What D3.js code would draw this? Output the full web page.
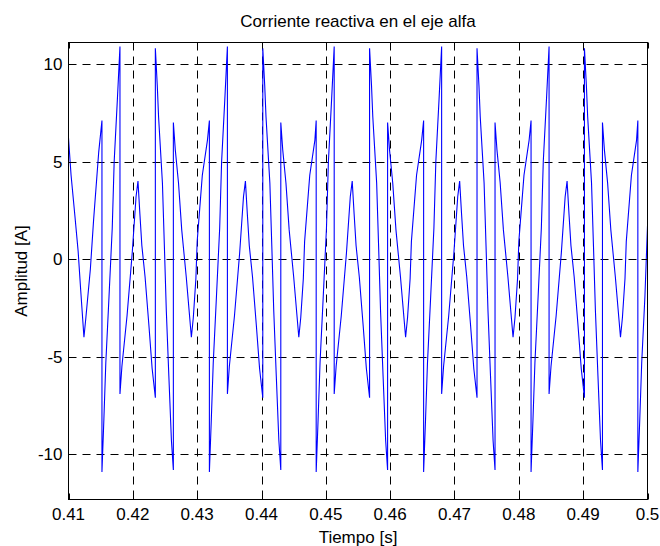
<!DOCTYPE html>
<html lang="es">
<head>
    <meta charset="UTF-8">
    <title>Corriente reactiva</title>
    <script src="https://d3js.org/d3.v7.min.js"></script>
    <style>
        body { margin: 0; background: #fff; }
        text { font-family: "Liberation Sans", Arial, Helvetica, sans-serif; fill: #000; }
    </style>
</head>
<body>
    <svg class="grafico" width="660" height="546"></svg>
    <script>
    // textos
    const titulo = "Corriente reactiva en el eje alfa"
    const etiquetaX = "Tiempo [s]"
    const etiquetaY = "Amplitud [A]"

    // ticks
    const xTicks = [0.41, 0.42, 0.43, 0.44, 0.45, 0.46, 0.47, 0.48, 0.49, 0.5]
    const xTickLabels = ["0.41", "0.42", "0.43", "0.44", "0.45", "0.46", "0.47", "0.48", "0.49", "0.5"]
    const yTicks = [-10, -5, 0, 5, 10]
    const yTickLabels = ["-10", "-5", "0", "5", "10"]
    const xLim = [0.41, 0.5]
    const yLim = [-12.31, 11.10]

    // muestras: [tiempo (s), corriente (A)]
    const senal = [
        [0.4100, 6.2], [0.4104, 4.3], [0.4110, 2.2], [0.4115, 0.4], [0.4119, -1.6], [0.4124, -4.0],
        [0.4127, -3.0], [0.4134, -0.5], [0.4139, 2.0], [0.4147, 5.5], [0.4152, 7.1],
        // periodo 1
        [0.4152, -10.9], [0.4155, -8.2], [0.4158, -5.3], [0.4163, -1.9], [0.4168, 1.6], [0.4171, 5.0], [0.4176, 8.2], [0.4180, 10.9],
        [0.4180, -6.9], [0.4183, -5.5], [0.4191, -2.9], [0.4199, 0.3], [0.4205, 3.2], [0.4208, 4.0],
        [0.4211, 2.3], [0.4214, 0.7], [0.4219, -0.9], [0.4225, -3.4], [0.4230, -5.6], [0.4235, -7.1],
        [0.4235, 10.8], [0.4238, 8.9], [0.4240, 7.3], [0.4243, 5.6], [0.4246, 3.9], [0.4249, 0.7], [0.4252, -2.6], [0.4256, -6.0], [0.4260, -9.3], [0.4263, -10.8],
        [0.4263, 7.0], [0.4266, 5.6], [0.4271, 3.9], [0.4276, 1.5], [0.4283, -0.9], [0.4291, -4.0],
        [0.4294, -3.0], [0.4298, -1.0], [0.4300, 0.9], [0.4308, 4.3], [0.4316, 6.1], [0.4319, 7.1],
        // periodo 2
        [0.4319, -10.9], [0.4322, -8.2], [0.4325, -5.3], [0.4330, -1.9], [0.4335, 1.6], [0.4338, 5.0], [0.4343, 8.2], [0.4347, 10.9],
        [0.4347, -6.9], [0.4350, -5.5], [0.4358, -2.9], [0.4366, 0.3], [0.4372, 3.2], [0.4375, 4.0],
        [0.4378, 2.3], [0.4381, 0.7], [0.4386, -0.9], [0.4392, -3.4], [0.4397, -5.6], [0.4402, -7.1],
        [0.4402, 10.8], [0.4405, 8.9], [0.4407, 7.3], [0.4410, 5.6], [0.4413, 3.9], [0.4416, 0.7], [0.4419, -2.6], [0.4423, -6.0], [0.4427, -9.3], [0.4430, -10.8],
        [0.4430, 7.0], [0.4433, 5.6], [0.4438, 3.9], [0.4443, 1.5], [0.4450, -0.9], [0.4458, -4.0],
        [0.4461, -3.0], [0.4465, -1.0], [0.4467, 0.9], [0.4475, 4.3], [0.4483, 6.1], [0.4485, 7.1],
        // periodo 3
        [0.4485, -10.9], [0.4488, -8.2], [0.4491, -5.3], [0.4496, -1.9], [0.4501, 1.6], [0.4504, 5.0], [0.4509, 8.2], [0.4513, 10.9],
        [0.4513, -6.9], [0.4516, -5.5], [0.4524, -2.9], [0.4532, 0.3], [0.4538, 3.2], [0.4541, 4.0],
        [0.4544, 2.3], [0.4547, 0.7], [0.4552, -0.9], [0.4558, -3.4], [0.4563, -5.6], [0.4568, -7.1],
        [0.4568, 10.8], [0.4571, 8.9], [0.4573, 7.3], [0.4576, 5.6], [0.4579, 3.9], [0.4582, 0.7], [0.4585, -2.6], [0.4589, -6.0], [0.4593, -9.3], [0.4596, -10.8],
        [0.4596, 7.0], [0.4599, 5.6], [0.4604, 3.9], [0.4609, 1.5], [0.4616, -0.9], [0.4624, -4.0],
        [0.4627, -3.0], [0.4631, -1.0], [0.4633, 0.9], [0.4641, 4.3], [0.4649, 6.1], [0.4652, 7.1],
        // periodo 4
        [0.4652, -10.9], [0.4655, -8.2], [0.4658, -5.3], [0.4663, -1.9], [0.4668, 1.6], [0.4671, 5.0], [0.4676, 8.2], [0.4680, 10.9],
        [0.4680, -6.9], [0.4683, -5.5], [0.4691, -2.9], [0.4699, 0.3], [0.4705, 3.2], [0.4708, 4.0],
        [0.4711, 2.3], [0.4714, 0.7], [0.4719, -0.9], [0.4725, -3.4], [0.4730, -5.6], [0.4735, -7.1],
        [0.4735, 10.8], [0.4738, 8.9], [0.4740, 7.3], [0.4743, 5.6], [0.4746, 3.9], [0.4749, 0.7], [0.4752, -2.6], [0.4756, -6.0], [0.4760, -9.3], [0.4763, -10.8],
        [0.4763, 7.0], [0.4766, 5.6], [0.4771, 3.9], [0.4776, 1.5], [0.4783, -0.9], [0.4791, -4.0],
        [0.4794, -3.0], [0.4798, -1.0], [0.4800, 0.9], [0.4808, 4.3], [0.4816, 6.1], [0.4819, 7.1],
        // periodo 5
        [0.4819, -10.9], [0.4822, -8.2], [0.4825, -5.3], [0.4830, -1.9], [0.4835, 1.6], [0.4838, 5.0], [0.4843, 8.2], [0.4847, 10.9],
        [0.4847, -6.9], [0.4850, -5.5], [0.4858, -2.9], [0.4866, 0.3], [0.4872, 3.2], [0.4875, 4.0],
        [0.4878, 2.3], [0.4881, 0.7], [0.4886, -0.9], [0.4892, -3.4], [0.4897, -5.6], [0.4902, -7.1],
        [0.4902, 10.8], [0.4905, 8.9], [0.4907, 7.3], [0.4910, 5.6], [0.4913, 3.9], [0.4916, 0.7], [0.4919, -2.6], [0.4923, -6.0], [0.4927, -9.3], [0.4930, -10.8],
        [0.4930, 7.0], [0.4933, 5.6], [0.4938, 3.9], [0.4943, 1.5], [0.4950, -0.9], [0.4958, -4.0],
        [0.4961, -3.0], [0.4965, -1.0], [0.4967, 0.9], [0.4975, 4.3], [0.4983, 6.1], [0.4985, 7.1],
        // final
        [0.4985, -10.9], [0.4988, -8.2], [0.4991, -5.3], [0.4996, -1.9], [0.5000, 1.7]
    ]

    const margen = { left: 68.5, right: 647.5, top: 42.5, bottom: 499.5 }

    const svg = d3.select('.grafico')

    // escalas
    const x = d3.scaleLinear().domain(xLim).range([margen.left, margen.right])
    const y = d3.scaleLinear().domain(yLim).range([margen.bottom, margen.top])

    svg.append('rect')
        .attr('width', 660).attr('height', 546)
        .attr('fill', '#fff')

    // grilla punteada
    const grilla = svg.append('g')
        .attr('stroke', '#000')
        .attr('stroke-width', 1)
        .attr('stroke-dasharray', '8,6')
    grilla.selectAll('.gx')
        .data(xTicks.filter(d => d > xLim[0] && d < xLim[1]))
        .enter()
        .append('line')
        .attr('x1', d => Math.round(x(d)) + 0.5).attr('x2', d => Math.round(x(d)) + 0.5)
        .attr('y1', margen.top).attr('y2', margen.bottom)
    grilla.selectAll('.gy')
        .data(yTicks)
        .enter()
        .append('line')
        .attr('y1', d => Math.round(y(d)) + 0.5).attr('y2', d => Math.round(y(d)) + 0.5)
        .attr('x1', margen.left).attr('x2', margen.right)

    // senal
    svg.append('clipPath').attr('id', 'recorte')
        .append('rect')
        .attr('x', margen.left).attr('y', margen.top)
        .attr('width', margen.right - margen.left)
        .attr('height', margen.bottom - margen.top)

    const linea = d3.line()
        .x(d => x(d[0]))
        .y(d => y(d[1]))

    svg.append('path')
        .datum(senal)
        .attr('clip-path', 'url(#recorte)')
        .attr('d', linea)
        .attr('fill', 'none')
        .attr('stroke', '#0000ff')
        .attr('stroke-width', 1.1)

    // ejes: ticks hacia adentro en los cuatro lados
    const tickLen = 6
    const ejes = svg.append('g').attr('stroke', '#000').attr('stroke-width', 1)
    xTicks.forEach(d => {
        const px = Math.round(x(d)) + 0.5
        ejes.append('line').attr('x1', px).attr('x2', px).attr('y1', margen.bottom).attr('y2', margen.bottom - tickLen)
        ejes.append('line').attr('x1', px).attr('x2', px).attr('y1', margen.top).attr('y2', margen.top + tickLen)
    })
    yTicks.forEach(d => {
        const py = Math.round(y(d)) + 0.5
        ejes.append('line').attr('y1', py).attr('y2', py).attr('x1', margen.left).attr('x2', margen.left + tickLen)
        ejes.append('line').attr('y1', py).attr('y2', py).attr('x1', margen.right).attr('x2', margen.right - tickLen)
    })
    ejes.append('rect')
        .attr('x', margen.left).attr('y', margen.top)
        .attr('width', margen.right - margen.left)
        .attr('height', margen.bottom - margen.top)
        .attr('fill', 'none')

    // etiquetas de ticks
    svg.append('g').selectAll('text')
        .data(xTicks)
        .enter()
        .append('text')
        .attr('x', d => x(d))
        .attr('y', 519.5)
        .attr('text-anchor', 'middle')
        .style('font-size', '17px')
        .text((d, i) => xTickLabels[i])

    svg.append('g').selectAll('text')
        .data(yTicks)
        .enter()
        .append('text')
        .attr('x', 62.5)
        .attr('y', d => y(d) + 6)
        .attr('text-anchor', 'end')
        .style('font-size', '17px')
        .text((d, i) => yTickLabels[i])

    // titulo y nombres de ejes
    svg.append('text')
        .attr('x', (margen.left + margen.right) / 2)
        .attr('y', 26.5)
        .attr('text-anchor', 'middle')
        .style('font-size', '17px')
        .text(titulo)

    svg.append('text')
        .attr('x', (margen.left + margen.right) / 2)
        .attr('y', 543)
        .attr('text-anchor', 'middle')
        .style('font-size', '17px')
        .text(etiquetaX)

    svg.append('text')
        .attr('transform', 'translate(27,' + (margen.top + margen.bottom) / 2 + ') rotate(-90)')
        .attr('text-anchor', 'middle')
        .style('font-size', '17px')
        .text(etiquetaY)
    </script>
</body>
</html>
